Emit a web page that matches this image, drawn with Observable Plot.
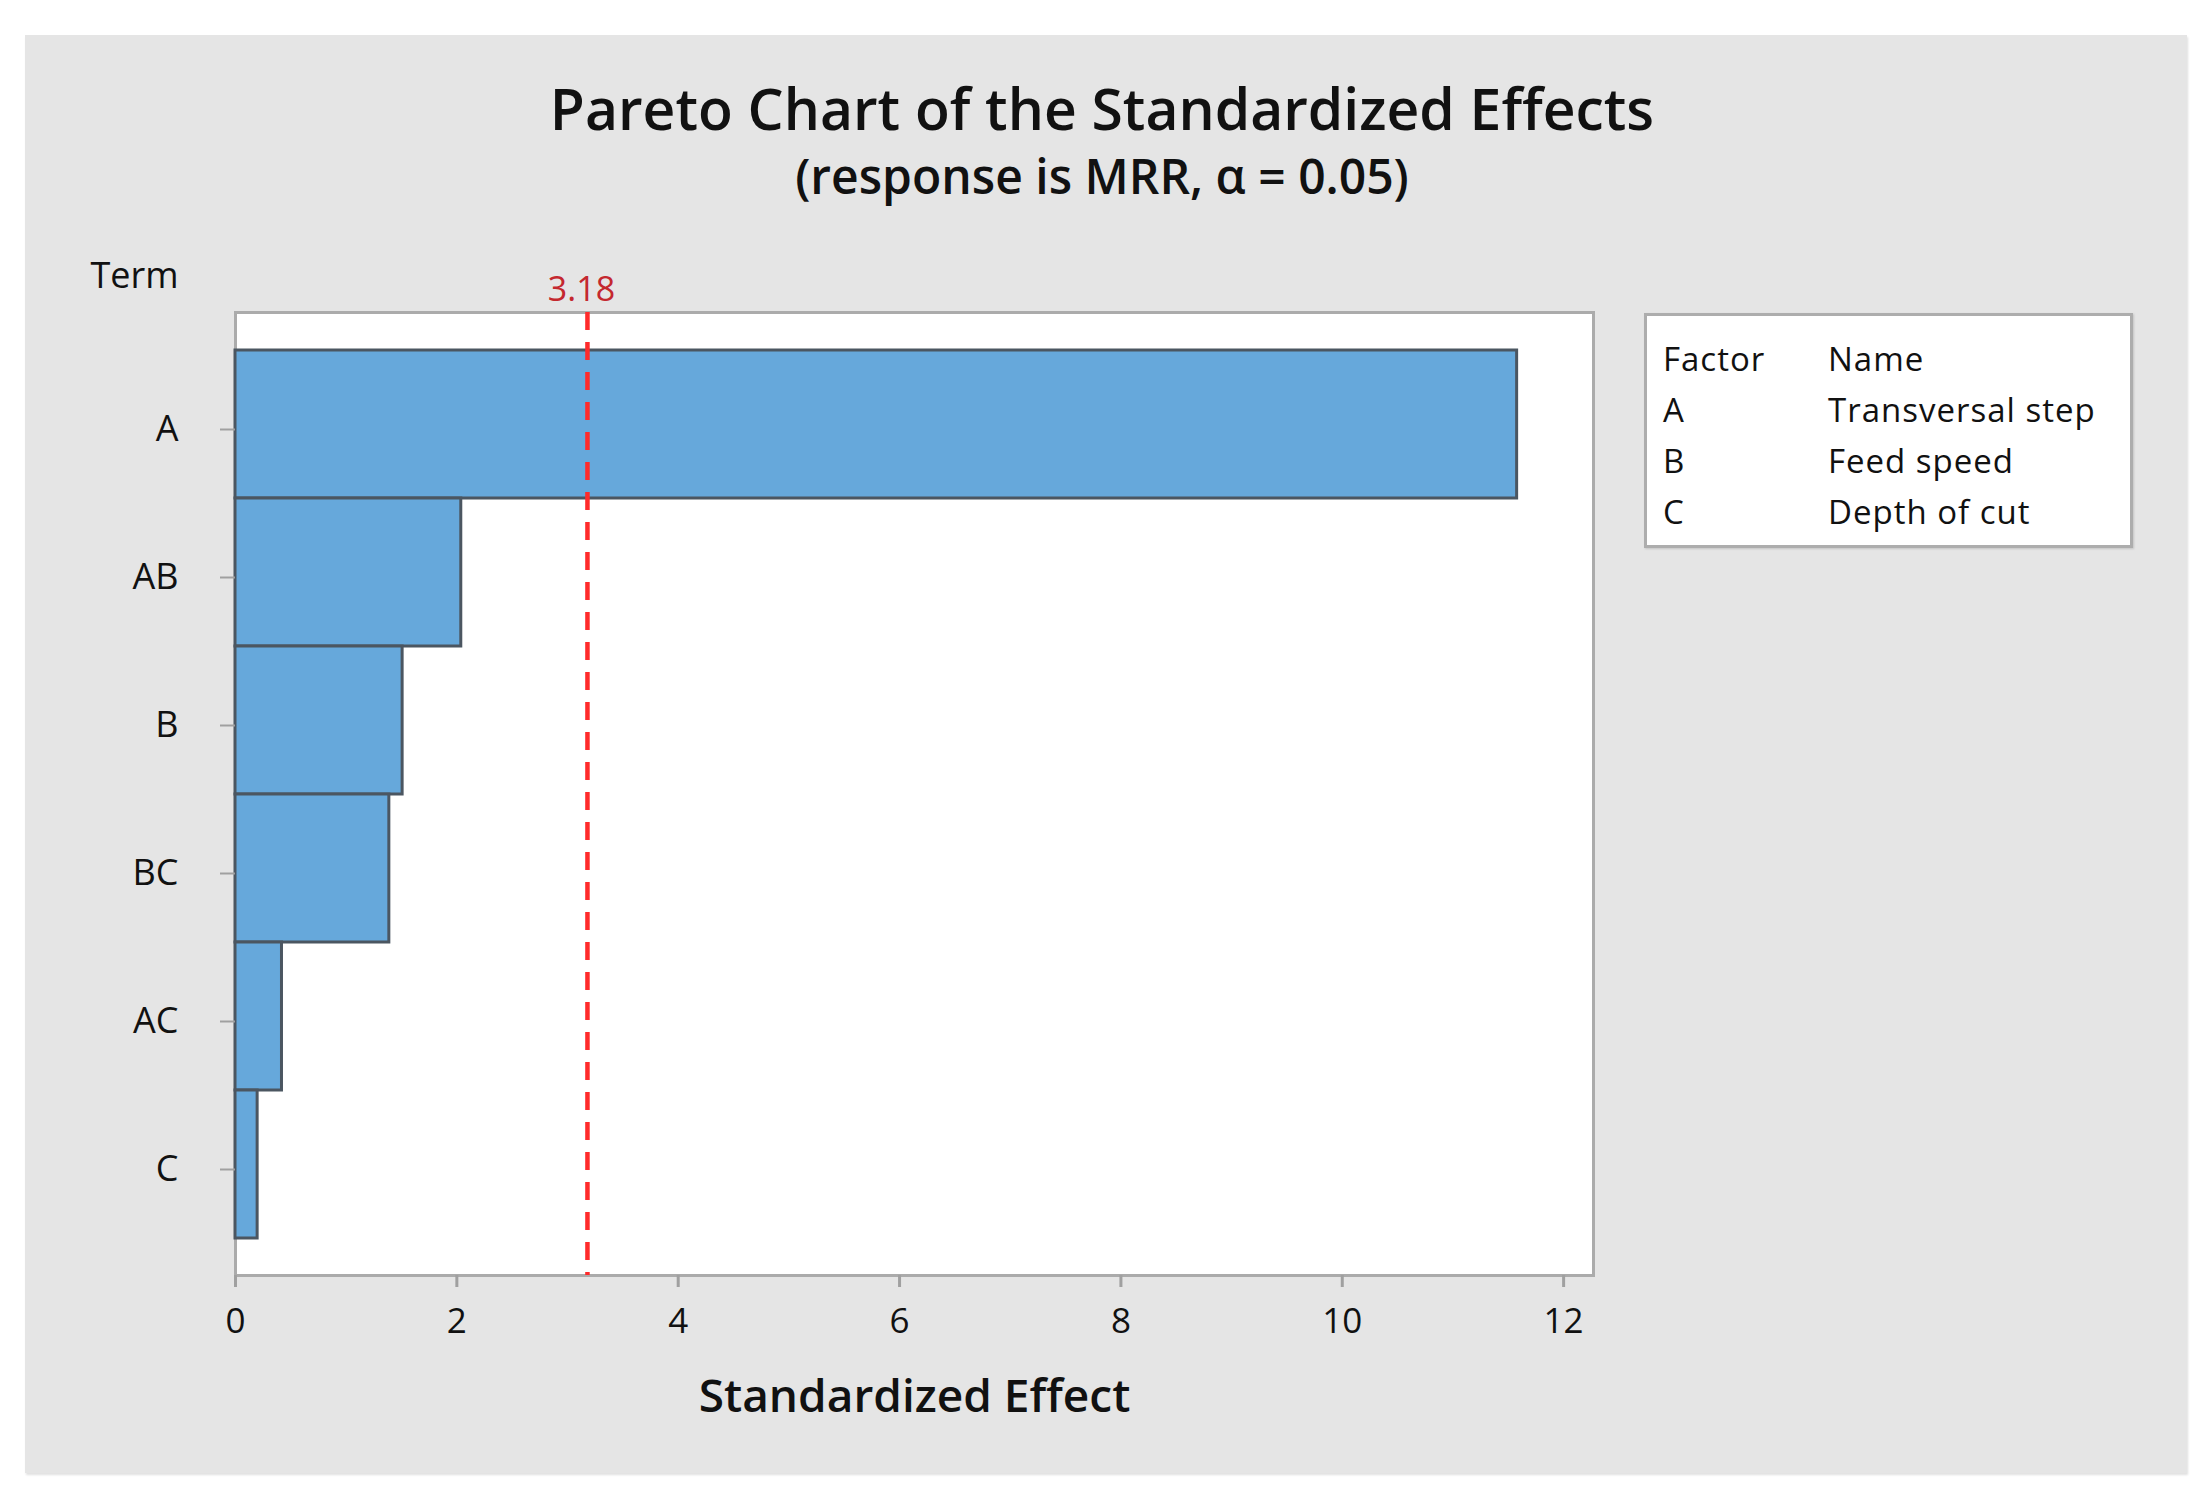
<!DOCTYPE html>
<html>
<head>
<meta charset="utf-8">
<script src="https://cdn.jsdelivr.net/npm/d3@7"></script>
<script src="https://cdn.jsdelivr.net/npm/@observablehq/plot@0.6"></script>
<style>
  html, body { margin: 0; padding: 0; background: #ffffff; }
  body { width: 2212px; height: 1503px; position: relative; overflow: hidden;
         font-family: "Open Sans", "Noto Sans", sans-serif; color: #111; }
  #panel { position: absolute; left: 25px; top: 35px; width: 2162px; height: 1438px;
           background: #e5e5e5; box-shadow: 1px 2px 2px rgba(0,0,0,0.12); }
  .title { position: absolute; left: 0; width: 2204px; text-align: center; line-height: 1; white-space: nowrap; }
  #t1 { top: 80px; font-size: 57px; font-weight: 600; }
  #t2 { top: 152px; font-size: 48px; font-weight: 600; }
  #chart { position: absolute; left: 0; top: 230px; }
  #legend { position: absolute; left: 1644px; top: 313px; width: 483px; height: 229px;
            background: #fff; border: 3px solid #adadad; box-shadow: 1px 1px 2px rgba(0,0,0,0.15); }
  #legend .row { position: absolute; left: 0; height: 51px; line-height: 51px; font-size: 33px;
                 font-weight: 500; letter-spacing: 1px; white-space: nowrap; }
  #legend .c1 { position: absolute; left: 16px; }
  #legend .c2 { position: absolute; left: 181px; }
</style>
</head>
<body>
<div id="panel"></div>
<div class="title" id="t1"></div>
<div class="title" id="t2"></div>
<div id="chart"></div>
<div id="legend"></div>
<script>
// ---- data ----
const titleText = "Pareto Chart of the Standardized Effects";
const subtitleText = "(response is MRR, \u03B1 = 0.05)";
const terms = ["A", "AB", "B", "BC", "AC", "C"];
const effects = [11.58, 2.04, 1.51, 1.39, 0.42, 0.20];
const criticalValue = [3.18];
const xTicks = [0, 2, 4, 6, 8, 10, 12];
const xDomain = [0, 12.27];
const yAxisLabel = "Term";
const xAxisLabel = "Standardized Effect";
const legendHeader = ["Factor", "Name"];
const factors = ["A", "B", "C"];
const factorNames = ["Transversal step", "Feed speed", "Depth of cut"];

const data = terms.map((t, i) => ({term: t, effect: effects[i]}));

document.getElementById("t1").textContent = titleText;
document.getElementById("t2").textContent = subtitleText;

const chart = Plot.plot({
  width: 1700,
  height: 1244,
  marginLeft: 235,
  marginRight: 107,
  marginTop: 82,
  marginBottom: 199,
  style: {background: "transparent", fontFamily: "'Open Sans', 'Noto Sans', sans-serif", color: "#111", overflow: "visible"},
  x: {domain: xDomain, label: null},
  y: {domain: terms, paddingInner: 0, paddingOuter: 0.25, label: null},
  marks: [
    Plot.frame({fill: "white", stroke: "#ababab", strokeWidth: 3}),
    Plot.barX(data, {x: "effect", y: "term", fill: "#66a8db", stroke: "#4b5661", strokeWidth: 3}),
    Plot.ruleX(criticalValue, {x: d => d, stroke: "#ff2b2b", strokeWidth: 4.5, strokeDasharray: "18,12"}),
    Plot.axisX({ticks: xTicks, tickSize: 12, tickPadding: 21, fontSize: 35, fontWeight: 500, stroke: "#a0a0a0", strokeWidth: 3, fill: "#111", label: null}),
    Plot.axisY({tickSize: 15, tickPadding: 42, fontSize: 36, fontWeight: 500, dy: 5, stroke: "#a0a0a0", strokeWidth: 2, fill: "#111", label: null}),
    Plot.text(criticalValue, {x: d => d, frameAnchor: "top", lineAnchor: "middle", dy: -22, dx: -6, text: d => d.toFixed(2), fill: "#c4282f", fontSize: 34, fontWeight: 500}),
    Plot.text([yAxisLabel], {frameAnchor: "top-left", textAnchor: "end", lineAnchor: "middle", dx: -57, dy: -36, fontSize: 36, fontWeight: 500, fill: "#111", text: d => d}),
    Plot.text([xAxisLabel], {frameAnchor: "bottom", lineAnchor: "middle", dy: 122, fontSize: 46, fontWeight: 600, fill: "#111", text: d => d})
  ]
});
document.getElementById("chart").appendChild(chart);

// legend table
const legend = document.getElementById("legend");
const rows = [legendHeader].concat(factors.map((f, i) => [f, factorNames[i]]));
rows.forEach((r, i) => {
  const row = document.createElement("div");
  row.className = "row";
  row.style.top = (17 + i * 51) + "px";
  row.style.width = "100%";
  const a = document.createElement("span"); a.className = "c1"; a.textContent = r[0];
  const b = document.createElement("span"); b.className = "c2"; b.textContent = r[1];
  row.appendChild(a); row.appendChild(b);
  legend.appendChild(row);
});
</script>
</body>
</html>
